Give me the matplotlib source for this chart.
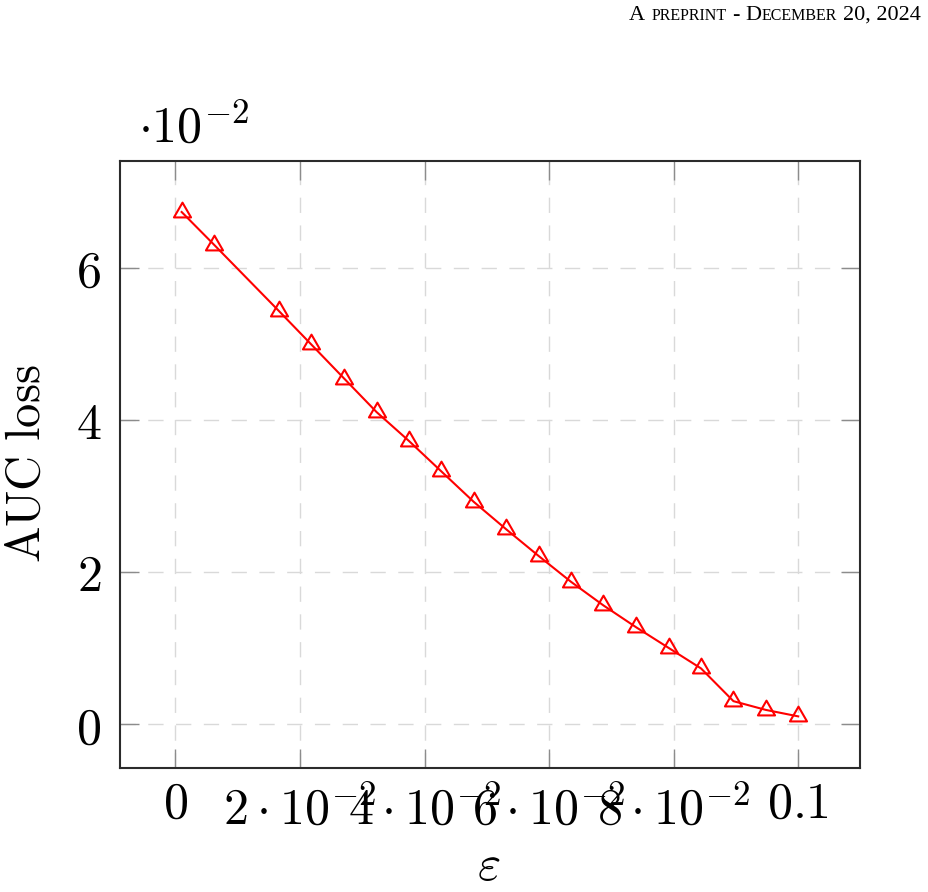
import matplotlib
matplotlib.use("Agg")
import matplotlib.pyplot as plt
from matplotlib.path import Path
from matplotlib.transforms import IdentityTransform, ScaledTranslation

# ---- data ----
eps = [0.0010, 0.0062, 0.0166, 0.0218, 0.0271, 0.0323, 0.0375, 0.0427, 0.0479,
       0.0531, 0.0583, 0.0635, 0.0687, 0.0740, 0.0792, 0.0844, 0.0896, 0.0948, 0.1000]
auc_loss = [0.0673, 0.0630, 0.0543, 0.0499, 0.0454, 0.0410, 0.0372, 0.0332, 0.0292,
            0.0256, 0.0221, 0.0187, 0.0156, 0.0127, 0.0100, 0.0073, 0.0030, 0.00185, 0.0010]
xticks = [0, 0.02, 0.04, 0.06, 0.08, 0.1]
xticklabels = [r"$0$", r"$2\cdot10^{-2}$", r"$4\cdot10^{-2}$", r"$6\cdot10^{-2}$",
               r"$8\cdot10^{-2}$", r"$0.1$"]
yticks = [0, 0.02, 0.04, 0.06]
yticklabels = [r"$0$", r"$2$", r"$4$", r"$6$"]

plt.rcParams["mathtext.fontset"] = "cm"
plt.rcParams["font.family"] = ["DejaVu Serif"]
plt.rcParams["lines.scale_dashes"] = False

W, H = 929, 892
fig = plt.figure(figsize=(W / 100, H / 100), dpi=100)
L, R, T, B = 120.5, 860.5, 160.5, 767.5
ax = fig.add_axes([L / W, 1 - B / H, (R - L) / W, (B - T) / H])

tri = Path([(0, 1), (-0.866, -0.5), (0.866, -0.5), (0, 1)],
           [Path.MOVETO, Path.LINETO, Path.LINETO, Path.CLOSEPOLY])
ax.plot(eps, auc_loss, color="#ff0000", lw=1.5, marker=tri, ms=14.2,
        mfc="none", mec="#ff0000", mew=1.5, zorder=3)

ax.set_xlim(-0.00882, 0.110)
ax.set_ylim(-0.00572, 0.07407)
ax.set_xticks(xticks)
ax.set_xticklabels(xticklabels)
ax.set_yticks(yticks)
ax.set_yticklabels(yticklabels)
ax.tick_params(axis="both", direction="in", length=14, width=1.0, color="#8c8c8c",
               labelsize=36, top=True, right=True)
ax.tick_params(axis="x", pad=13.5)
ax.tick_params(axis="y", pad=14)
ax.grid(True, color="#d9d9d9", lw=1.0, linestyle=(0, (11, 9)))
ax.set_axisbelow(True)
for s in ax.spines.values():
    s.set_linewidth(1.5)
    s.set_color("#2b2b2b")

# labels without exponent sit higher (top-anchored in the original)
up = ScaledTranslation(0, 5 / 72, fig.dpi_scale_trans)
for lab in ax.get_xticklabels():
    if "cdot" not in lab.get_text():
        lab.set_transform(lab.get_transform() + up)

# axis labels and multiplier
fig.text(26 / W, 1 - 464 / H, r"$\mathrm{AUC\ loss}$", rotation=90, fontsize=35,
         ha="center", va="center")
fig.text(489 / W, 1 - 880 / H, r"$\varepsilon$", fontsize=36, ha="center", va="baseline")
fig.text(138 / W, 1 - 143 / H, r"$\cdot10^{-2}$", fontsize=36, ha="left", va="baseline")

# header in small caps
renderer = fig.canvas.get_renderer()
big, small = 16, 11.5
pieces = [("A", big, 6), ("PREPRINT", small, 6), ("-", big, 6), ("D", big, 0),
          ("ECEMBER", small, 6), ("20, 2024", big, 0)]
texts = []
x = 0.0
base_y = H - 20
for s, size, gap in pieces:
    t = fig.text(x, base_y, s, fontsize=size, family="Liberation Serif",
                 ha="left", va="baseline", transform=IdentityTransform())
    w = t.get_window_extent(renderer).width
    texts.append((t, x))
    x += w + gap
shift = 921 - x
for t, x0 in texts:
    t.set_x(x0 + shift)

fig.savefig("out.png", dpi=100)
